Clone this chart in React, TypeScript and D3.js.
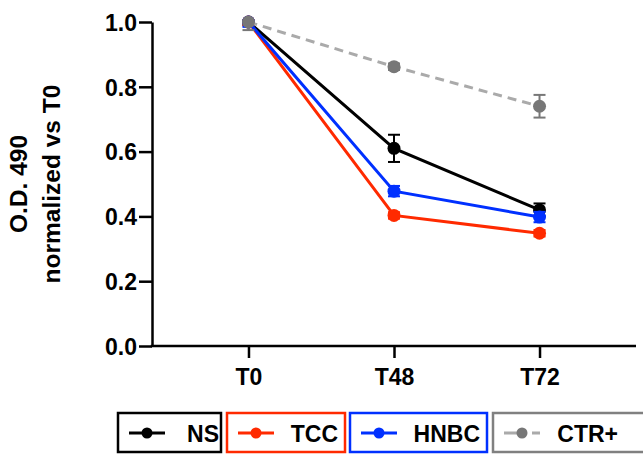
import React, { useEffect, useRef } from "react";
import * as d3 from "d3";

const times = ["T0", "T48", "T72"];
const yTicks = [0, 0.2, 0.4, 0.6, 0.8, 1.0];

const nsMean = [1.0, 0.61, 0.42];
const nsErr = [0.01, 0.042, 0.02];
const tccMean = [1.0, 0.403, 0.348];
const tccErr = [0.01, 0.01, 0.01];
const hnbcMean = [1.0, 0.478, 0.398];
const hnbcErr = [0.015, 0.016, 0.016];
const ctrMean = [1.0, 0.862, 0.74];
const ctrErr = [0.025, 0.01, 0.035];

const seriesNames = ["NS", "TCC", "HNBC", "CTR+"];

const FONT = "'Liberation Sans', Arial, sans-serif";

export default function App() {
  const ref = useRef<SVGSVGElement | null>(null);

  useEffect(() => {
    const svg = d3.select(ref.current);
    svg.selectAll("*").remove();

    const series = [
      { name: "NS", mean: nsMean, err: nsErr, line: "#000000", dot: "#000000", dash: null, box: "#000000" },
      { name: "TCC", mean: tccMean, err: tccErr, line: "#ff2a00", dot: "#ff2a00", dash: null, box: "#ff2a00" },
      { name: "HNBC", mean: hnbcMean, err: hnbcErr, line: "#0030ff", dot: "#0030ff", dash: null, box: "#0030ff" },
      { name: "CTR+", mean: ctrMean, err: ctrErr, line: "#aaaaaa", dot: "#777777", dash: "9,6", box: "#808080" },
    ];

    const x = d3.scalePoint<string>().domain(times).range([152, 636]).padding(0.663);
    const y = d3.scaleLinear().domain([0, 1]).range([346, 22]);

    // error bars are clipped to the plot area (like the original software)
    svg
      .append("defs")
      .append("clipPath")
      .attr("id", "plot-clip")
      .append("rect")
      .attr("x", 152)
      .attr("y", 22)
      .attr("width", 484)
      .attr("height", 324);

    // y axis
    const yAxis = svg
      .append("g")
      .attr("transform", "translate(152,0)")
      .call(
        d3
          .axisLeft(y)
          .tickValues(yTicks)
          .tickFormat(d3.format(".1f"))
          .tickSize(13)
          .tickSizeOuter(0)
      );
    yAxis.selectAll("path, line").attr("stroke", "#000").attr("stroke-width", 2.5);
    yAxis
      .selectAll("text")
      .attr("font-family", FONT)
      .attr("font-weight", "bold")
      .attr("font-size", 23)
      .attr("fill", "#000")
      .attr("x", -15)
      .attr("dy", "0.36em");

    // x axis
    const xAxis = svg
      .append("g")
      .attr("transform", "translate(0,346)")
      .call(d3.axisBottom(x).tickSize(12).tickSizeOuter(0));
    xAxis.select("path.domain").attr("d", "M150.75,0H636");
    xAxis.selectAll("path, line").attr("stroke", "#000").attr("stroke-width", 2.5);
    xAxis
      .selectAll("text")
      .attr("font-family", FONT)
      .attr("font-weight", "bold")
      .attr("font-size", 23)
      .attr("fill", "#000")
      .attr("y", 39)
      .attr("dy", 0);

    // y label
    const yl = svg
      .append("text")
      .attr("transform", "translate(0,184) rotate(-90)")
      .attr("text-anchor", "middle")
      .attr("font-family", FONT)
      .attr("font-weight", "bold")
      .attr("font-size", 24.5)
      .attr("fill", "#000");
    yl.append("tspan").attr("x", 0).attr("y", 27).text("O.D. 490");
    yl.append("tspan").attr("x", 0).attr("y", 60).text("normalized vs T0");

    const line = d3
      .line<number>()
      .x((_, i) => x(times[i]) as number)
      .y((d) => y(d));

    series.forEach((s) => {
      const g = svg.append("g");
      g.append("path")
        .attr("d", line(s.mean))
        .attr("fill", "none")
        .attr("stroke", s.line)
        .attr("stroke-width", 3)
        .attr("stroke-dasharray", s.dash);
      s.mean.forEach((m, i) => {
        const cx = x(times[i]) as number;
        const y1 = y(m + s.err[i]);
        const y2 = y(m - s.err[i]);
        const eb = g.append("g").attr("clip-path", "url(#plot-clip)");
        eb.append("line")
          .attr("x1", cx)
          .attr("x2", cx)
          .attr("y1", y1)
          .attr("y2", y2)
          .attr("stroke", s.dot)
          .attr("stroke-width", 2);
        [y1, y2].forEach((yy) =>
          eb
            .append("line")
            .attr("x1", cx - 6)
            .attr("x2", cx + 6)
            .attr("y1", yy)
            .attr("y2", yy)
            .attr("stroke", s.dot)
            .attr("stroke-width", 2)
        );
        g.append("circle").attr("cx", cx).attr("cy", y(m)).attr("r", 6.5).attr("fill", s.dot);
      });
    });

    // legend
    const legendX = [117, 226, 349, 492];
    const legendW = [105, 120, 139, 160];
    const textEnd = [219, 338, 480, 618];
    series.forEach((s, i) => {
      const lg = svg.append("g");
      lg.append("rect")
        .attr("x", legendX[i] + 1)
        .attr("y", 413)
        .attr("width", legendW[i] - 2)
        .attr("height", 39)
        .attr("fill", "none")
        .attr("stroke", s.box)
        .attr("stroke-width", 2.5);
      lg.append("line")
        .attr("x1", legendX[i] + 12)
        .attr("x2", legendX[i] + 48)
        .attr("y1", 433)
        .attr("y2", 433)
        .attr("stroke", s.line)
        .attr("stroke-width", 3)
        .attr("stroke-dasharray", s.dash ? "14,5,4,5" : null);
      lg.append("circle").attr("cx", legendX[i] + 30).attr("cy", 433).attr("r", 5.5).attr("fill", s.dot);
      lg.append("text")
        .attr("x", textEnd[i])
        .attr("y", 442)
        .attr("text-anchor", "end")
        .attr("font-family", FONT)
        .attr("font-weight", "bold")
        .attr("font-size", 23)
        .attr("fill", "#000")
        .text(seriesNames[i]);
    });
  }, []);

  return (
    <svg
      ref={ref}
      width={643}
      height={454}
      style={{ position: "absolute", left: 0, top: 0, background: "#fff" }}
    />
  );
}
